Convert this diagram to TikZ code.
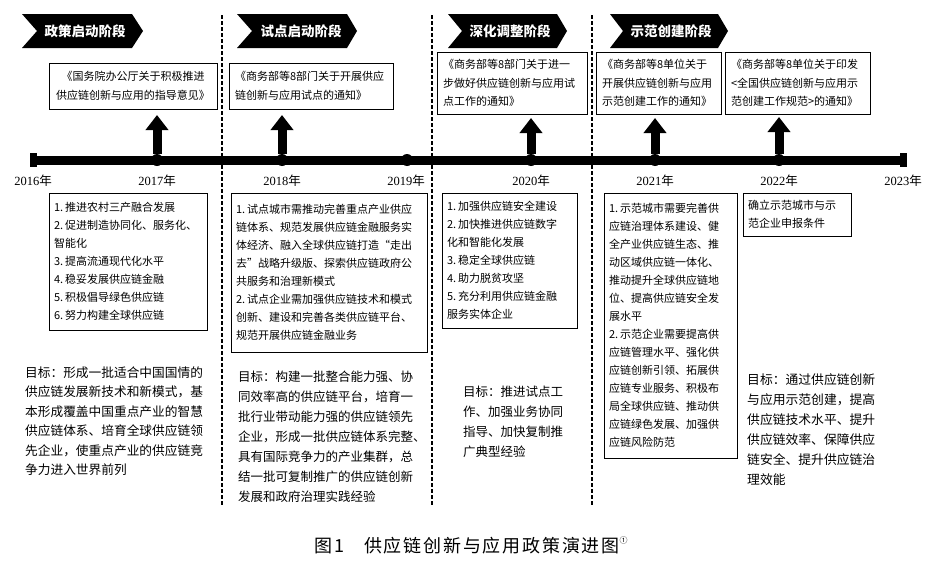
\documentclass[tikz,border=0pt]{standalone}
\usepackage{fontspec}
\setmainfont{Liberation Serif}
\newfontfamily\cjk{Noto Sans CJK SC}
\newfontfamily\capfont[LetterSpace=10]{Noto Sans CJK SC}
\usetikzlibrary{arrows.meta}
\newcommand\yrlabel[1]{#1{\cjk 年}}
\begin{document}
\begin{tikzpicture}[x=1pt,y=-1pt,
  docbox/.style={draw, line width=1pt, anchor=north west, outer sep=0pt,
    inner xsep=6pt, inner ysep=0pt, font=\cjk\fontsize{11}{18.5}\selectfont, align=left},
  infobox/.style={draw, line width=1pt, anchor=north west, outer sep=0pt,
    inner xsep=5pt, inner ysep=0pt, font=\cjk\fontsize{11}{18}\selectfont, align=left},
  goaltext/.style={anchor=north west, inner sep=0pt, align=left},
  bannertext/.style={text=white, font=\cjk\bfseries\fontsize{13.5}{14}\selectfont, inner sep=0pt},
  bannershape/.style={fill=black},
  phase/.style={line width=2.2pt, dash pattern=on 4pt off 2pt},
  timeline/.style={line width=9pt},
  endmark/.style={fill=black, minimum width=7pt, minimum height=14pt, inner sep=0pt, outer sep=0pt},
  yeardot/.style={circle, fill=black, minimum size=12pt, inner sep=0pt, outer sep=0pt},
  yeartext/.style={font=\fontsize{12.5}{13}\selectfont, inner sep=0pt},
  uparrow/.style={line width=9pt, -{Triangle[width=22pt,length=15pt]}},
]
\useasboundingbox (0,0) rectangle (940,565);

% phase separators
\foreach \x/\n in {222/a,432/b,592/c}{
  \coordinate (sep\n top) at (\x,15);
  \coordinate (sep\n bot) at (\x,505);
  \draw[phase] (sep\n top) -- (sep\n bot);
}

% stage banners
\fill[bannershape] (22,14) -- (132,14) -- (143,31) -- (132,48) -- (22,48) -- (37,31) -- cycle;
\node[bannertext] (stage1) at (85,31) {政策启动阶段};
\fill[bannershape] (237,14) -- (347,14) -- (357,31) -- (347,48) -- (237,48) -- (252,31) -- cycle;
\node[bannertext] (stage2) at (301,31) {试点启动阶段};
\fill[bannershape] (448,14) -- (557,14) -- (567,31) -- (557,48) -- (448,48) -- (462,31) -- cycle;
\node[bannertext] (stage3) at (510,31) {深化调整阶段};
\fill[bannershape] (610,14) -- (718,14) -- (728,31) -- (718,48) -- (610,48) -- (623,31) -- cycle;
\node[bannertext] (stage4) at (671,31) {示范创建阶段};

% timeline
\node[endmark] (t2016) at (33,160) {};
\node[endmark] (t2023) at (903,160) {};
\draw[timeline] (t2016.center) -- (t2023.center);
\node[yeardot] (d2017) at (157,160) {};
\node[yeardot] (d2018) at (282,160) {};
\node[yeardot] (d2019) at (407,160) {};
\node[yeardot] (d2020) at (531,160) {};
\node[yeardot] (d2021) at (655,160) {};
\node[yeardot] (d2022) at (779,160) {};

% year labels
\node[yeartext] (y2016) at (33,181) {\yrlabel{2016}};
\node[yeartext] (y2017) at (157,181) {\yrlabel{2017}};
\node[yeartext] (y2018) at (282,181) {\yrlabel{2018}};
\node[yeartext] (y2019) at (406,181) {\yrlabel{2019}};
\node[yeartext] (y2020) at (531,181) {\yrlabel{2020}};
\node[yeartext] (y2021) at (655,181) {\yrlabel{2021}};
\node[yeartext] (y2022) at (779,181) {\yrlabel{2022}};
\node[yeartext] (y2023) at (903,181) {\yrlabel{2023}};

% policy documents
\node[docbox, align=center, text width=156pt, minimum height=46pt] (doc1) at (49,63)
  {《国务院办公厅关于积极推进\\供应链创新与应用的指导意见》};
\node[docbox, text width=152pt, minimum height=46pt] (doc2) at (229,63)
  {《商务部等8部门关于开展供应\\链创新与应用试点的通知》};
\node[docbox, text width=138pt, minimum height=62pt] (doc3) at (437,52)
  {《商务部等8部门关于进一\\步做好供应链创新与应用试\\点工作的通知》};
\node[docbox, text width=113pt, minimum height=62pt] (doc4) at (596,52)
  {《商务部等8单位关于\\开展供应链创新与应用\\示范创建工作的通知》};
\node[docbox, text width=133pt, minimum height=62pt] (doc5) at (725,52)
  {《商务部等8单位关于印发\\<全国供应链创新与应用示\\范创建工作规范>的通知》};

% arrows from timeline to documents
\coordinate (a2017) at (157,115);
\coordinate (a2018) at (282,115);
\coordinate (a2020) at (531,118);
\coordinate (a2021) at (655,118);
\coordinate (a2022) at (779,117);
\draw[uparrow] (d2017) -- (a2017);
\draw[uparrow] (d2018) -- (a2018);
\draw[uparrow] (d2020) -- (a2020);
\draw[uparrow] (d2021) -- (a2021);
\draw[uparrow] (d2022) -- (a2022);

% content boxes
\node[infobox, text width=148pt, minimum height=137pt] (boxA) at (49,193)
  {1.\kern2pt 推进农村三产融合发展\\
   2.\kern2pt 促进制造协同化、服务化、\\
   智能化\\
   3.\kern2pt 提高流通现代化水平\\
   4.\kern2pt 稳妥发展供应链金融\\
   5.\kern2pt 积极倡导绿色供应链\\
   6.\kern2pt 努力构建全球供应链};
\node[infobox, text width=186pt, minimum height=159pt] (boxB) at (231,193)
  {1.\kern2pt 试点城市需推动完善重点产业供应\\
   链体系、规范发展供应链金融服务实\\
   体经济、融入全球供应链打造“走出\\
   去”战略升级版、探索供应链政府公\\
   共服务和治理新模式\\
   2.\kern2pt 试点企业需加强供应链技术和模式\\
   创新、建设和完善各类供应链平台、\\
   规范开展供应链金融业务};
\node[infobox, text width=125pt, minimum height=135pt] (boxC) at (442,193)
  {1.\kern2pt 加强供应链安全建设\\
   2.\kern2pt 加快推进供应链数字\\
   化和智能化发展\\
   3.\kern2pt 稳定全球供应链\\
   4.\kern2pt 助力脱贫攻坚\\
   5.\kern2pt 充分利用供应链金融\\
   服务实体企业};
\node[infobox, text width=123pt, minimum height=265pt] (boxD) at (604,193)
  {1.\kern2pt 示范城市需要完善供\\
   应链治理体系建设、健\\
   全产业供应链生态、推\\
   动区域供应链一体化、\\
   推动提升全球供应链地\\
   位、提高供应链安全发\\
   展水平\\
   2.\kern2pt 示范企业需要提高供\\
   应链管理水平、强化供\\
   应链创新引领、拓展供\\
   应链专业服务、积极布\\
   局全球供应链、推动供\\
   应链绿色发展、加强供\\
   应链风险防范};
\node[infobox, text width=98pt, minimum height=43pt] (boxE) at (743,193)
  {确立示范城市与示\\范企业申报条件};

% goals
\node[goaltext, font=\cjk\fontsize{12.7}{19.5}\selectfont] (goal1) at (25,366.5)
  {目标：形成一批适合中国国情的\\
   供应链发展新技术和新模式，基\\
   本形成覆盖中国重点产业的智慧\\
   供应链体系、培育全球供应链领\\
   先企业，使重点产业的供应链竞\\
   争力进入世界前列};
\node[goaltext, font=\cjk\fontsize{12.5}{20}\selectfont] (goal2) at (238,370.5)
  {目标：构建一批整合能力强、协\\
   同效率高的供应链平台，培育一\\
   批行业带动能力强的供应链领先\\
   企业，形成一批供应链体系完整、\\
   具有国际竞争力的产业集群，总\\
   结一批可复制推广的供应链创新\\
   发展和政府治理实践经验};
\node[goaltext, font=\cjk\fontsize{12.5}{20}\selectfont] (goal3) at (463,385.5)
  {目标：推进试点工\\
   作、加强业务协同\\
   指导、加快复制推\\
   广典型经验};
\node[goaltext, font=\cjk\fontsize{12.8}{20}\selectfont] (goal4) at (747,373.5)
  {目标：通过供应链创新\\
   与应用示范创建，提高\\
   供应链技术水平、提升\\
   供应链效率、保障供应\\
   链安全、提升供应链治\\
   理效能};

% caption
\node[font=\capfont\fontsize{18}{18}\selectfont, inner sep=0pt] (caption) at (471,545)
  {图1\hspace{20pt}供应链创新与应用政策演进图\raisebox{0.5em}{\fontsize{8}{8}\selectfont ①}};
\end{tikzpicture}
\end{document}
